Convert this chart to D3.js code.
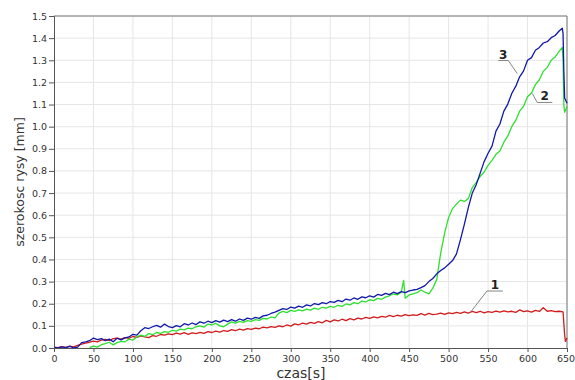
<!DOCTYPE html>
<html><head><meta charset="utf-8">
<script src="https://cdn.jsdelivr.net/npm/d3@7/dist/d3.min.js"></script>
<style>
html,body{margin:0;padding:0;background:#fff;}
svg{display:block;}
</style></head>
<body><svg id="c" width="575" height="380"></svg>
<script>
// ---- data ----
const xTicks = [0,50,100,150,200,250,300,350,400,450,500,550,600,650];
const yTicks = [0.0,0.1,0.2,0.3,0.4,0.5,0.6,0.7,0.8,0.9,1.0,1.1,1.2,1.3,1.4,1.5];
const seriesNames = ["1","2","3"];

const t1 = [0,5,10,15,20,25,30,35,40,45,50,55,60,65,70,75,80,85,90,95,100,105,110,115,120,125,130,135,140,145,150,155,160,165,170,175,180,185,190,195,200,205,210,215,220,225,230,235,240,245,250,255,260,265,270,275,280,285,290,295,300,305,310,315,320,325,330,335,340,345,350,355,360,365,370,375,380,385,390,395,400,405,410,415,420,425,430,435,440,445,450,455,460,465,470,475,480,485,490,495,500,505,510,515,520,525,530,535,540,545,550,555,560,565,570,575,580,585,590,595,600,605,610,615,620,625,630,635,640,645,647,648,650];
const v1 = [0.004,0.002,0.006,0.003,0.008,0.005,0.012,0.018,0.022,0.026,0.031,0.028,0.036,0.039,0.034,0.042,0.045,0.040,0.047,0.044,0.052,0.048,0.055,0.050,0.047,0.056,0.053,0.061,0.058,0.064,0.060,0.067,0.063,0.069,0.062,0.068,0.065,0.071,0.066,0.074,0.070,0.076,0.072,0.079,0.075,0.083,0.078,0.085,0.081,0.088,0.084,0.090,0.087,0.094,0.091,0.097,0.093,0.100,0.096,0.104,0.099,0.109,0.105,0.112,0.108,0.116,0.111,0.119,0.114,0.125,0.118,0.127,0.122,0.130,0.124,0.133,0.127,0.135,0.131,0.138,0.134,0.141,0.136,0.143,0.139,0.147,0.142,0.148,0.144,0.151,0.146,0.150,0.147,0.155,0.149,0.156,0.151,0.153,0.158,0.152,0.159,0.155,0.161,0.156,0.163,0.158,0.165,0.160,0.166,0.159,0.164,0.161,0.167,0.162,0.168,0.163,0.166,0.161,0.172,0.164,0.168,0.162,0.170,0.165,0.182,0.166,0.169,0.164,0.166,0.163,0.060,0.030,0.045];

const t2 = [45,50,55,60,65,70,75,80,85,90,95,100,105,110,115,120,125,130,135,140,145,150,155,160,165,170,175,180,185,190,195,200,205,210,215,220,225,230,235,240,245,250,255,260,265,270,275,280,285,290,295,300,305,310,315,320,325,330,335,340,345,350,355,360,365,370,375,380,385,390,395,400,405,410,415,420,425,430,435,440,443,445,450,455,460,465,470,475,480,485,490,495,500,505,510,515,520,525,530,535,540,545,550,555,560,565,570,575,580,585,590,595,600,605,610,615,620,625,630,635,640,644,645,646,647,650];
const v2 = [0.002,0.008,0.004,0.015,0.020,0.026,0.014,0.024,0.030,0.028,0.040,0.036,0.050,0.058,0.052,0.065,0.060,0.070,0.066,0.074,0.071,0.080,0.076,0.085,0.082,0.090,0.087,0.096,0.100,0.094,0.108,0.104,0.112,0.100,0.096,0.108,0.118,0.112,0.120,0.116,0.124,0.120,0.128,0.125,0.134,0.131,0.140,0.136,0.158,0.165,0.160,0.170,0.165,0.172,0.168,0.176,0.171,0.180,0.175,0.184,0.180,0.188,0.184,0.193,0.188,0.199,0.195,0.205,0.200,0.212,0.208,0.218,0.214,0.224,0.220,0.230,0.236,0.244,0.240,0.252,0.305,0.225,0.240,0.245,0.250,0.262,0.252,0.245,0.270,0.310,0.430,0.520,0.590,0.630,0.650,0.668,0.662,0.675,0.725,0.748,0.775,0.795,0.825,0.848,0.875,0.890,0.930,0.958,1.000,1.028,1.070,1.092,1.135,1.152,1.190,1.212,1.250,1.268,1.300,1.315,1.340,1.358,1.300,1.100,1.065,1.090];

const t3 = [0,5,10,15,20,25,30,35,40,45,50,55,60,65,70,75,80,85,90,95,100,105,110,115,120,125,130,135,140,145,150,155,160,165,170,175,180,185,190,195,200,205,210,215,220,225,230,235,240,245,250,255,260,265,270,275,280,285,290,295,300,305,310,315,320,325,330,335,340,345,350,355,360,365,370,375,380,385,390,395,400,405,410,415,420,425,430,435,440,445,450,455,460,465,470,475,480,485,490,495,500,505,510,515,520,525,530,535,540,545,550,555,560,565,570,575,580,585,590,595,600,605,610,615,620,625,630,635,640,644,645,646,647,650];
const v3 = [0.003,0.000,0.005,0.002,0.007,0.001,0.004,0.024,0.028,0.033,0.045,0.038,0.042,0.033,0.040,0.028,0.044,0.037,0.046,0.050,0.062,0.058,0.078,0.092,0.088,0.096,0.102,0.094,0.108,0.097,0.092,0.101,0.096,0.110,0.104,0.113,0.106,0.118,0.112,0.121,0.115,0.124,0.117,0.126,0.119,0.128,0.121,0.131,0.125,0.135,0.130,0.138,0.134,0.145,0.148,0.156,0.162,0.170,0.178,0.174,0.185,0.180,0.189,0.184,0.195,0.190,0.201,0.196,0.205,0.200,0.210,0.206,0.215,0.209,0.221,0.216,0.226,0.220,0.231,0.227,0.236,0.230,0.242,0.238,0.247,0.241,0.252,0.246,0.255,0.250,0.258,0.262,0.265,0.273,0.282,0.300,0.314,0.335,0.350,0.362,0.378,0.395,0.425,0.490,0.560,0.635,0.700,0.738,0.790,0.842,0.880,0.912,0.980,1.012,1.070,1.102,1.150,1.182,1.225,1.252,1.300,1.312,1.345,1.358,1.378,1.384,1.402,1.412,1.432,1.445,1.420,1.250,1.130,1.106];

// annotation anchors (time, value on curve)
const annT = [527, 606, 587];
const annV = [0.158, 1.150, 1.240];

// ---- chart ----
const W = 575, H = 380;
const m = {left:54, right:8, top:16, bottom:32};
const svg = d3.select("#c");
const x = d3.scaleLinear().domain([0,650]).range([m.left, W - m.right]);
const y = d3.scaleLinear().domain([0,1.5]).range([H - m.bottom, m.top]);

const font = "DejaVu Sans, Verdana, sans-serif";

// grid
const g = svg.append("g");
g.selectAll("line.vx").data(xTicks.slice(1)).join("line")
  .attr("x1", d=>x(d)).attr("x2", d=>x(d)).attr("y1", y(0)).attr("y2", y(1.5))
  .attr("stroke", "#e6e6e6").attr("stroke-width", 1);
g.selectAll("line.hy").data(yTicks.slice(1)).join("line")
  .attr("x1", x(0)).attr("x2", x(650)).attr("y1", d=>y(d)).attr("y2", d=>y(d))
  .attr("stroke", "#e6e6e6").attr("stroke-width", 1);

// frame top/right
svg.append("path")
  .attr("d", `M${x(0)},${y(1.5)}H${x(650)}V${y(0)}`)
  .attr("fill","none").attr("stroke","#777").attr("stroke-width",1);

// lines
const line = d3.line().x(d=>x(d[0])).y(d=>y(d[1]));
const mk = (ts, vs) => ts.map((t,i)=>[t, vs[i]]);
const colors = ["#d01c1c", "#2ee02e", "#1018a8"];
const data = [mk(t1,v1), mk(t2,v2), mk(t3,v3)];
data.forEach((d,i)=>{
  svg.append("path").datum(d).attr("d", line)
    .attr("fill","none").attr("stroke", colors[i]).attr("stroke-width", 1.3)
    .attr("stroke-linejoin","round");
});

// axes
const ax = svg.append("g").attr("transform", `translate(0,${y(0)})`)
  .call(d3.axisBottom(x).tickValues(xTicks).tickFormat(d3.format("d")).tickSize(4).tickPadding(3));
const ay = svg.append("g").attr("transform", `translate(${x(0)},0)`)
  .call(d3.axisLeft(y).tickValues(yTicks).tickFormat(d3.format(".1f")).tickSize(5).tickPadding(2));
[ax, ay].forEach(a=>{
  a.select(".domain").attr("stroke","#555");
  a.selectAll(".tick line").attr("stroke","#555");
  a.selectAll("text").attr("font-family", font).attr("font-size", 9.5).attr("fill","#333");
});
ax.selectAll(".tick text").filter(d=>d===650).attr("dx", -1.5);

// axis titles
svg.append("text").attr("x", 301).attr("y", 378).attr("text-anchor","middle")
  .attr("font-family", font).attr("font-size", 14).attr("fill","#333").text("czas[s]");
svg.append("text").attr("transform", `translate(24,${(y(0)+y(1.5))/2}) rotate(-90)`)
  .attr("text-anchor","middle").attr("font-family", font).attr("font-size", 12.5).attr("fill","#333")
  .text("szerokosc rysy [mm]");

// annotations
const ann = [
  {dx1:17, dy1:-22, dx2:33},  // 1
  {dx1:5,  dy1:9,  dx2:20},   // 2
  {dx1:-9, dy1:-13, dx2:-19}  // 3
];
seriesNames.forEach((nm,i)=>{
  const px = x(annT[i]), py = y(annV[i]);
  const a = ann[i];
  const ex = px + a.dx1, ey = py + a.dy1;
  svg.append("path")
    .attr("d", `M${px},${py}L${ex},${ey}L${px + a.dx2},${ey}`)
    .attr("fill","none").attr("stroke","#777").attr("stroke-width",0.9);
  svg.append("text").attr("x", (ex + px + a.dx2)/2).attr("y", ey - 2)
    .attr("text-anchor","middle").attr("font-family", font).attr("font-size", 12)
    .attr("font-weight","bold").attr("fill","#222").text(nm);
});
</script></body></html>
